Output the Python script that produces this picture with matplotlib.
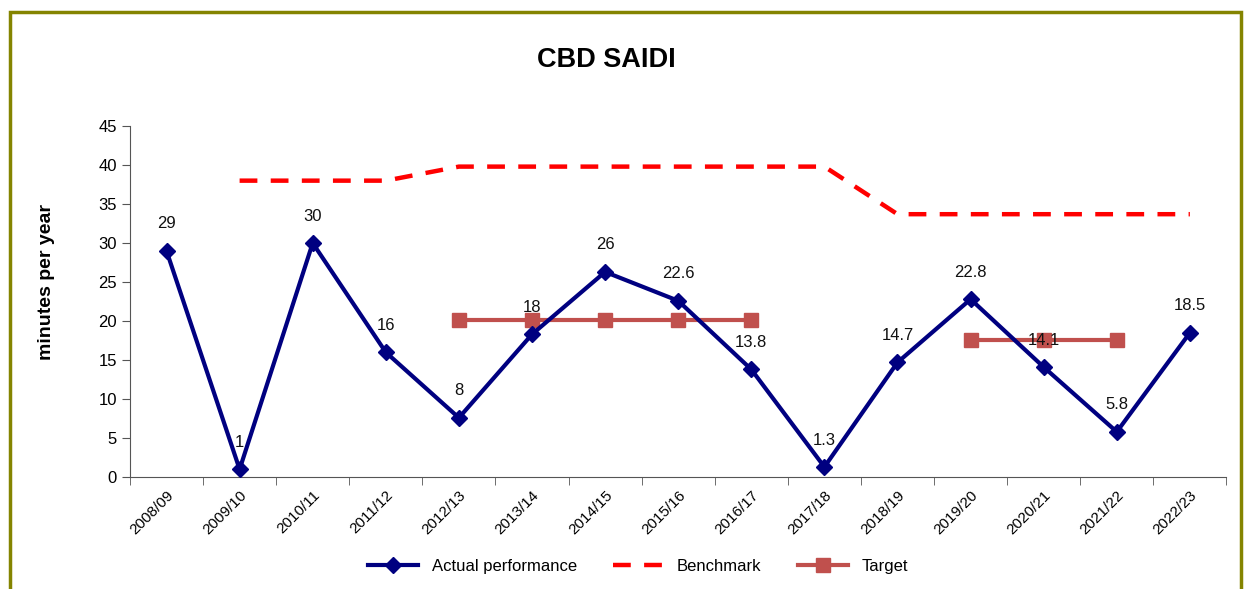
import numpy as np
import matplotlib.pyplot as plt
from matplotlib.patches import Rectangle

plt.rcParams['font.family'] = ['Liberation Sans', 'DejaVu Sans']

years = ['2008/09', '2009/10', '2010/11', '2011/12', '2012/13', '2013/14', '2014/15',
         '2015/16', '2016/17', '2017/18', '2018/19', '2019/20', '2020/21', '2021/22', '2022/23']

# actual performance (plotted values) and their data labels
actual = [29, 1, 30, 16, 7.6, 18.3, 26.3, 22.6, 13.8, 1.3, 14.7, 22.8, 14.1, 5.8, 18.5]
actual_labels = ['29', '1', '30', '16', '8', '18', '26', '22.6', '13.8', '1.3', '14.7',
                 '22.8', '14.1', '5.8', '18.5']

# benchmark from 2009/10 onwards
benchmark = [np.nan, 38, 38, 38, 39.8, 39.8, 39.8, 39.8, 39.8, 39.8,
             33.7, 33.7, 33.7, 33.7, 33.7]

# target, two separate periods
target = [np.nan, np.nan, np.nan, np.nan, 20.2, 20.2, 20.2, 20.2, 20.2,
          np.nan, np.nan, 17.6, 17.6, 17.6, np.nan]

x = np.arange(len(years))

fig = plt.figure(figsize=(12.46, 5.89), dpi=100)
ax = fig.add_axes([0.1043, 0.19, 0.880, 0.596])

ax.plot(x, actual, color='#000080', lw=3, marker='D', ms=8, label='Actual performance', zorder=3)
ax.plot(x, benchmark, color='#FF0000', lw=3.2, dashes=(4, 3), label='Benchmark', zorder=2)
ax.plot(x, target, color='#C0504D', lw=3, marker='s', ms=10, label='Target', zorder=2)

for i in range(len(x)):
    ax.annotate(actual_labels[i], (x[i], actual[i]), xytext=(0, 14), textcoords='offset points',
                ha='center', va='bottom', fontsize=12, color='#111111', zorder=4)

ax.set_xlim(-0.5, len(years) - 0.5)
ax.set_ylim(0, 45)
ax.set_yticks(np.arange(0, 46, 5))
ax.set_xticks(x)
ax.set_xticklabels(years, rotation=45, ha='right', rotation_mode='anchor')
ax.set_xticks(np.arange(-0.5, len(years), 1), minor=True)
ax.tick_params(axis='x', which='major', length=0, pad=8, labelsize=11)
ax.tick_params(axis='x', which='minor', length=6, color='#555555')
ax.tick_params(axis='y', length=6, labelsize=12, color='#555555')
ax.spines['top'].set_visible(False)
ax.spines['right'].set_visible(False)
ax.spines['left'].set_color('#555555')
ax.spines['bottom'].set_color('#555555')

ax.set_ylabel('minutes per year', fontsize=14, fontweight='bold')
ax.yaxis.set_label_coords(-0.068, 0.555)
fig.text(0.487, 0.898, 'CBD SAIDI', ha='center', va='center', fontsize=19.5, fontweight='bold')

fig.legend(loc='center', bbox_to_anchor=(0.512, 0.039), ncol=3, frameon=False,
           fontsize=12, handlelength=3, columnspacing=2.2)

fig.patches.append(Rectangle((10 / 1246, -0.05), 1231 / 1246, 1.05 - 12 / 589,
                             transform=fig.transFigure, fill=False,
                             edgecolor='#848400', lw=2.5))

fig.savefig('out.png', dpi=100)
